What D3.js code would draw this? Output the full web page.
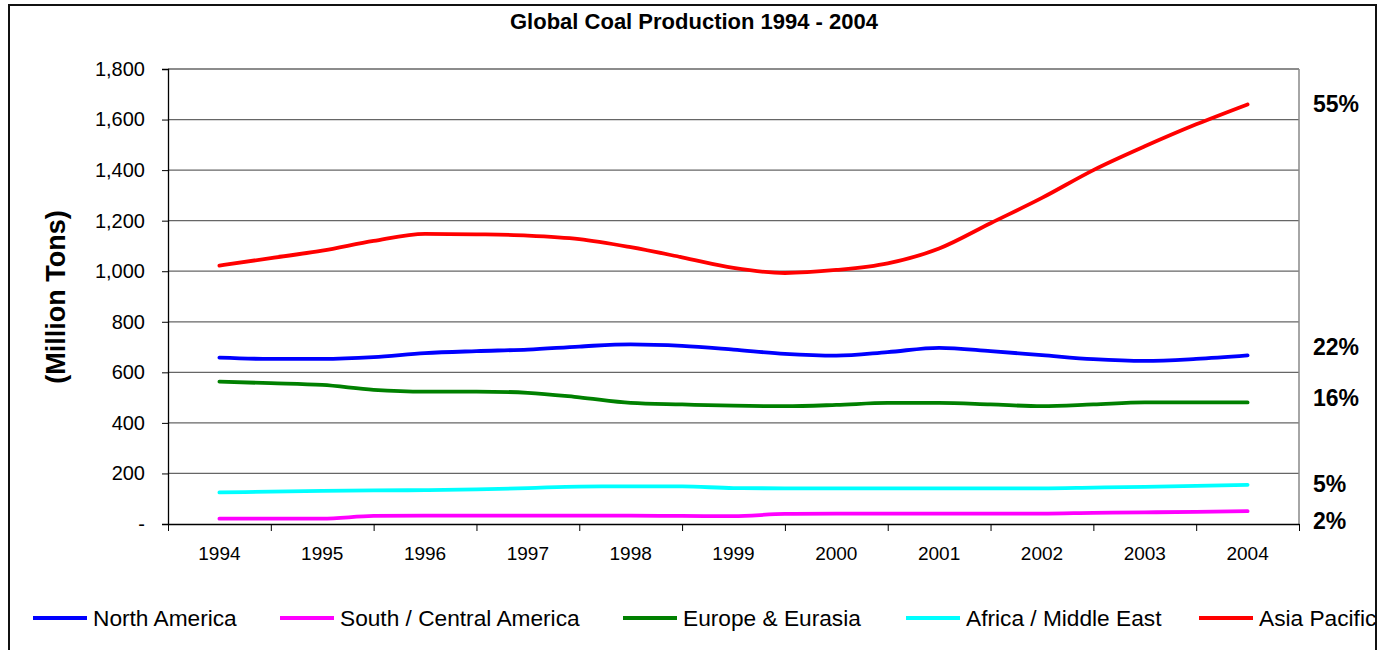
<!DOCTYPE html>
<html>
<head>
<meta charset="utf-8">
<script src="https://cdn.jsdelivr.net/npm/d3@7"></script>
<style>
  html, body { margin: 0; padding: 0; background: #fff; }
  svg { display: block; font-family: Arial, "Liberation Sans", sans-serif; }
</style>
</head>
<body>
<svg id="chart" width="1394" height="650"></svg>
<script>
// Category labels on the x axis
const years = [1994, 1995, 1996, 1997, 1998, 1999, 2000, 2001, 2002, 2003, 2004];

// Readings are taken every half year, 1994.0 through 2004.0
const samplePositions = d3.range(0, 21).map(i => 1994 + i * 0.5);

// Coal production by region, million tons
const northAmerica = [658, 653, 653, 660, 676, 684, 690, 702, 711, 705, 690,
                      673, 666, 680, 697, 684, 668, 652, 645, 653, 667];
const southCentralAmerica = [21, 21, 21, 32, 33, 33, 33, 33, 33, 32, 31,
                             40, 41, 41, 41, 41, 41, 44, 46, 48, 51];
const europeEurasia = [563, 557, 550, 531, 524, 524, 519, 501, 479, 473, 468,
                       466, 471, 479, 479, 473, 466, 473, 481, 481, 481];
const africaMiddleEast = [125, 128, 131, 133, 134, 137, 142, 148, 149, 149, 142,
                          141, 141, 141, 141, 141, 141, 144, 147, 151, 155];
const asiaPacific = [1022, 1052, 1081, 1120, 1148, 1146, 1141, 1127, 1095, 1055, 1013,
                     993, 1005, 1031, 1090, 1190, 1290, 1400, 1494, 1581, 1660];

// Region names and their 2004 share of world production
const regionNames = ["North America", "South / Central America", "Europe & Eurasia",
                     "Africa / Middle East", "Asia Pacific"];
const shareLabels2004 = ["22%", "2%", "16%", "5%", "55%"];

// Value axis ticks
const yTicks = [0, 200, 400, 600, 800, 1000, 1200, 1400, 1600, 1800];

const seriesValues = [northAmerica, southCentralAmerica, europeEurasia, africaMiddleEast, asiaPacific];
const colors = ["#0000FF", "#FF00FF", "#008000", "#00FFFF", "#FF0000"];

const series = regionNames.map((name, i) => ({
  name,
  color: colors[i],
  share: shareLabels2004[i],
  points: samplePositions.map((t, j) => ({ t, v: seriesValues[i][j] }))
}));

const svg = d3.select("#chart");

// Outer frame
svg.append("defs").append("clipPath").attr("id", "frameClip")
  .append("rect").attr("x", 9).attr("y", 5).attr("width", 1367).attr("height", 660);

svg.append("rect")
  .attr("x", 9).attr("y", 5).attr("width", 1367).attr("height", 660)
  .attr("fill", "#fff").attr("stroke", "#111").attr("stroke-width", 2);

const plot = { left: 168, right: 1299, top: 69, bottom: 524 };

const x = d3.scaleLinear().domain([1993.5, 2004.5]).range([plot.left, plot.right]);
const y = d3.scaleLinear().domain([0, 1800]).range([plot.bottom, plot.top]);

// Title
svg.append("text")
  .attr("x", 694).attr("y", 29)
  .attr("text-anchor", "middle")
  .attr("font-weight", "bold").attr("font-size", 22)
  .text("Global Coal Production 1994 - 2004");

// Horizontal gridlines
svg.append("g").selectAll("line")
  .data(yTicks.filter(d => d > 0))
  .join("line")
  .attr("x1", plot.left).attr("x2", plot.right)
  .attr("y1", d => y(d)).attr("y2", d => y(d))
  .attr("stroke", "#666").attr("stroke-width", 1.3);

// Right edge of plot area
svg.append("line")
  .attr("x1", plot.right).attr("x2", plot.right)
  .attr("y1", plot.top).attr("y2", plot.bottom)
  .attr("stroke", "#888").attr("stroke-width", 1.5);

// Y axis
const yAxis = d3.axisLeft(y)
  .tickValues(yTicks)
  .tickSize(6)
  .tickPadding(17)
  .tickFormat(d => d === 0 ? "-" : d3.format(",")(d));

const gy = svg.append("g")
  .attr("transform", `translate(${plot.left},0)`)
  .call(yAxis);
gy.selectAll("text").attr("font-size", 20).attr("font-family", "Arial, 'Liberation Sans', sans-serif").attr("fill", "#000");
gy.selectAll("line").attr("stroke", "#000");
gy.select(".domain").attr("stroke", "#000").attr("stroke-width", 1.3);

// X axis: ticks on category boundaries, labels at category centers
const boundaries = d3.range(0, years.length + 1).map(i => 1993.5 + i);
const gx = svg.append("g")
  .attr("transform", `translate(0,${plot.bottom})`)
  .call(d3.axisBottom(x).tickValues(boundaries).tickSize(7).tickSizeOuter(0).tickFormat(""));
gx.selectAll("line").attr("stroke", "#000");
gx.select(".domain").attr("stroke", "#000").attr("stroke-width", 1.5);

svg.append("g").selectAll("text")
  .data(years)
  .join("text")
  .attr("x", d => x(d)).attr("y", 560)
  .attr("text-anchor", "middle")
  .attr("font-size", 19)
  .text(d => d);

// Y axis title
svg.append("text")
  .attr("transform", "translate(65,297) rotate(-90)")
  .attr("text-anchor", "middle")
  .attr("font-weight", "bold").attr("font-size", 27)
  .text("(Million Tons)");

// Series lines
const line = d3.line()
  .x(d => x(d.t))
  .y(d => y(d.v))
  .curve(d3.curveMonotoneX);

svg.append("g").selectAll("path")
  .data(series)
  .join("path")
  .attr("d", d => line(d.points))
  .attr("fill", "none")
  .attr("stroke", d => d.color)
  .attr("stroke-width", 3.8)
  .attr("stroke-linejoin", "round")
  .attr("stroke-linecap", "round");

// 2004 share labels beside the line ends
const shareOffset = { "55%": 8, "22%": 0, "16%": 4, "5%": 7, "2%": 18 };
svg.append("g").selectAll("text")
  .data(series)
  .join("text")
  .attr("x", 1313)
  .attr("y", d => y(d.points[d.points.length - 1].v) + shareOffset[d.share])
  .attr("font-weight", "bold").attr("font-size", 23)
  .text(d => d.share);

// Legend
const legendX = [33, 280, 623, 906, 1199];
const legend = svg.append("g").attr("clip-path", "url(#frameClip)")
  .selectAll("g")
  .data(series)
  .join("g")
  .attr("transform", (d, i) => `translate(${legendX[i]},618)`);
legend.append("line")
  .attr("x1", 0).attr("x2", 54).attr("y1", 0).attr("y2", 0)
  .attr("stroke", d => d.color).attr("stroke-width", 3.8);
legend.append("text")
  .attr("x", 60).attr("y", 8)
  .attr("font-size", 22.7)
  .text(d => d.name);
</script>
</body>
</html>
